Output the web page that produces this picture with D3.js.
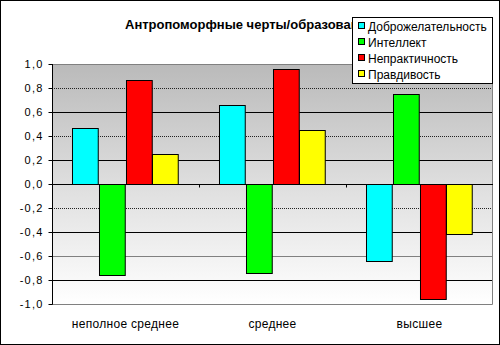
<!DOCTYPE html>
<html>
<head>
<meta charset="utf-8">
<script src="https://cdn.jsdelivr.net/npm/d3@7/dist/d3.min.js"></script>
<style>
  html, body { margin: 0; padding: 0; background: #fff; }
  svg { display: block; font-family: "Liberation Sans", Arial, sans-serif; }
</style>
</head>
<body>
<svg id="chart" width="500" height="345"></svg>
<script>
// Education levels on the category axis
const categories = ["неполное среднее", "среднее", "высшее"];

// Series (one value per education level)
const seriesNames = ["Доброжелательность", "Интеллект", "Непрактичность", "Правдивость"];
const dobro      = [0.47, 0.66, -0.64];
const intellekt  = [-0.76, -0.74, 0.75];
const nepraktich = [0.87, 0.96, -0.96];
const pravdiv    = [0.25, 0.45, -0.42];
const seriesValues = [dobro, intellekt, nepraktich, pravdiv];
const seriesColors = ["#00ffff", "#00ff00", "#ff0000", "#ffff00"];

// Value-axis ticks
const yTicks = [1.0, 0.8, 0.6, 0.4, 0.2, 0.0, -0.2, -0.4, -0.6, -0.8, -1.0];

const title = "Антропоморфные черты/образование";

const svg = d3.select("#chart");
const W = 500, H = 345;
const plot = { left: 52, right: 493, top: 64, bottom: 304 };

const y = d3.scaleLinear().domain([-1, 1]).range([plot.bottom, plot.top]);
const x0 = d3.scaleBand().domain(categories).range([plot.left, plot.right])
  .paddingInner(0.272).paddingOuter(0.136);
const x1 = d3.scaleBand().domain(d3.range(seriesNames.length))
  .range([0, x0.bandwidth()]).padding(0);

// Outer frame
svg.append("rect").attr("x", 0.5).attr("y", 0.5).attr("width", W - 1).attr("height", H - 1)
  .attr("fill", "#fff").attr("stroke", "#000");

// Plot-area gradient fill
const defs = svg.append("defs");
const grad = defs.append("linearGradient").attr("id", "bg").attr("x1", 0).attr("y1", 0).attr("x2", 0).attr("y2", 1);
grad.append("stop").attr("offset", "0%").attr("stop-color", "#bababa");
grad.append("stop").attr("offset", "50%").attr("stop-color", "#dedede");
grad.append("stop").attr("offset", "100%").attr("stop-color", "#ffffff");
svg.append("rect").attr("x", plot.left).attr("y", plot.top)
  .attr("width", plot.right - plot.left).attr("height", plot.bottom - plot.top)
  .attr("fill", "url(#bg)");

// Gridlines
function gridStyle(v) {
  const r = Math.round(v * 10);
  if (r === 8 || r === 4 || r === -2) return { stroke: "#222", dash: "1,1" };
  if (r === -6) return { stroke: "#808080", dash: null };
  return { stroke: "#000", dash: null };
}
svg.append("g").selectAll("line").data(yTicks.filter(v => v > -1 && v < 1)).join("line")
  .attr("x1", plot.left).attr("x2", plot.right)
  .attr("y1", d => Math.round(y(d)) + 0.5).attr("y2", d => Math.round(y(d)) + 0.5)
  .attr("stroke", d => gridStyle(d).stroke)
  .attr("stroke-dasharray", d => gridStyle(d).dash);

// Plot border (top, right, bottom)
svg.append("path")
  .attr("d", `M${plot.left},${plot.top + 0.5}H${plot.right - 0.5}V${plot.bottom + 0.5}H${plot.left}`)
  .attr("fill", "none").attr("stroke", "#808080");

// Bars
const groups = svg.append("g").selectAll("g").data(categories).join("g")
  .attr("transform", d => `translate(${x0(d)},0)`);
groups.selectAll("rect")
  .data((c, ci) => seriesValues.map((vals, si) => ({ si, v: vals[ci] })))
  .join("rect")
  .attr("x", d => Math.round(x1(d.si)) + 0.5)
  .attr("width", x1.bandwidth() - 1)
  .attr("y", d => Math.round(y(Math.max(0, d.v))) + 0.5)
  .attr("height", d => Math.abs(Math.round(y(d.v)) - Math.round(y(0))))
  .attr("fill", d => seriesColors[d.si])
  .attr("stroke", "#000");

// Zero line with category ticks
const y0 = Math.round(y(0)) + 0.5;
svg.append("line").attr("x1", plot.left).attr("x2", plot.right)
  .attr("y1", y0).attr("y2", y0).attr("stroke", "#000");
const boundaries = [plot.left + x0.step(), plot.left + 2 * x0.step()];
svg.append("g").selectAll("line").data(boundaries).join("line")
  .attr("x1", d => Math.round(d) + 0.5).attr("x2", d => Math.round(d) + 0.5)
  .attr("y1", y0).attr("y2", y0 + 3).attr("stroke", "#000");

// Value axis
const yAxis = d3.axisLeft(y).tickValues(yTicks).tickSize(4).tickPadding(5)
  .tickFormat(d => d3.format(".1f")(d).replace(".", ",").replace("−", "-"));
const gy = svg.append("g").attr("transform", `translate(${plot.left + 0.5},0)`).call(yAxis);
gy.select(".domain").attr("d", `M-0,${plot.top}V${plot.bottom + 0.5}`).attr("stroke", "#000");
gy.selectAll(".tick line").attr("stroke", "#000");
gy.selectAll("text").attr("font-size", 11).attr("fill", "#000")
  .attr("letter-spacing", 1.2)
  .attr("font-family", "'Liberation Sans', Arial, sans-serif");

// Category labels
svg.append("g").selectAll("text").data(categories).join("text")
  .attr("x", d => x0(d) + x0.bandwidth() / 2)
  .attr("y", 328)
  .attr("text-anchor", "middle")
  .attr("font-size", 12)
  .attr("letter-spacing", 0.3)
  .attr("fill", "#000")
  .text(d => d);

// Title
svg.append("text").attr("x", 125).attr("y", 29)
  .attr("font-size", 13).attr("font-weight", "bold").attr("fill", "#000")
  .text(title);

// Legend
const lg = svg.append("g").attr("transform", "translate(352,17)");
lg.append("rect").attr("x", 0.5).attr("y", 0.5).attr("width", 140).attr("height", 66)
  .attr("fill", "#fff").attr("stroke", "#000");
const items = lg.selectAll("g").data(seriesNames).join("g")
  .attr("transform", (d, i) => `translate(0,${9 + i * 16})`);
items.append("rect").attr("x", 6.5).attr("y", -3.5).attr("width", 6).attr("height", 6)
  .attr("fill", (d, i) => seriesColors[i]).attr("stroke", "#000");
items.append("text").attr("x", 16).attr("y", 4.5).attr("font-size", 12).attr("fill", "#000")
  .text(d => d);
</script>
</body>
</html>
